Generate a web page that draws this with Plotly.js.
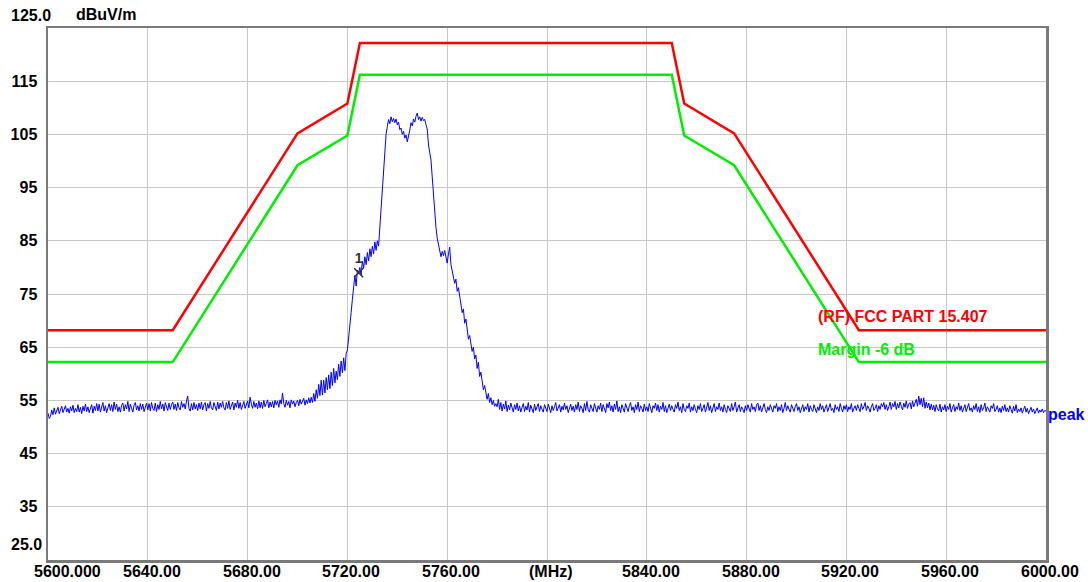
<!DOCTYPE html>
<html>
<head>
<meta charset="utf-8">
<script src="https://cdn.plot.ly/plotly-3.0.1.min.js"></script>
<style>
html,body{margin:0;padding:0;background:#fff;}
#chart{width:1088px;height:582px;}
</style>
</head>
<body>
<div id="chart"></div>
<script>
// Limit line: (RF) FCC PART 15.407
const limitFreq = [5600, 5650, 5700, 5720, 5725, 5850, 5855, 5875, 5925, 6000];
const limitLevel = [68.2, 68.2, 105.2, 110.8, 122.2, 122.2, 110.8, 105.2, 68.2, 68.2];
// Margin line (-6 dB)
const marginLevel = [62.2, 62.2, 99.2, 104.8, 116.2, 116.2, 104.8, 99.2, 62.2, 62.2];

// Peak trace, 5600 MHz .. 6000 MHz, 0.5 MHz per value
const peakStartMHz = 5600;
const peakStepMHz = 0.5;
const peakLevel = [
  52.6,51.6,52.0,53.2,52.3,53.6,52.4,52.9,53.7,52.5,53.1,53.9,52.7,53.3,54.0,52.8,53.5,52.6,53.8,53.0, // 5600
  54.1,52.7,53.5,52.9,54.2,52.8,53.7,52.5,53.9,53.0,54.3,52.9,53.8,52.7,53.6,54.2,52.6,53.9,53.1,54.4, // 5610
  53.0,54.3,52.8,53.9,54.6,53.0,54.0,52.7,53.6,54.4,53.1,54.2,52.9,54.7,53.3,54.3,52.9,53.8,52.8,54.1, // 5620
  54.5,53.0,54.2,53.4,54.8,52.9,54.3,53.5,52.8,54.1,54.6,53.2,54.0,53.0,54.4,53.3,54.3,52.9,53.7,54.5, // 5630
  53.2,54.4,53.0,54.6,53.5,53.1,54.5,52.9,54.2,53.3,54.8,53.4,54.3,53.0,54.6,53.8,53.1,54.5,53.3,54.2, // 5640
  54.7,53.3,54.3,53.1,54.6,53.6,53.2,54.8,53.7,54.4,53.4,54.9,55.8,53.5,53.0,54.4,53.2,54.6,53.4,54.2, // 5650
  53.1,54.5,53.4,54.7,53.2,54.2,54.6,53.0,54.4,53.5,54.8,53.6,53.2,54.6,53.9,53.1,54.7,53.4,54.5,53.7, // 5660
  54.8,53.6,53.2,54.6,53.5,54.9,53.3,54.3,54.7,53.2,54.5,53.7,55.0,53.5,54.6,53.3,54.3,54.8,53.5,54.4, // 5670
  54.9,53.6,55.6,54.3,53.5,54.8,53.7,54.5,53.4,54.9,53.6,54.7,53.5,55.0,53.8,54.4,55.1,53.6,54.7,53.8, // 5680
  54.8,53.6,55.0,54.2,54.9,53.7,55.1,54.3,56.4,54.4,53.7,55.0,54.1,54.8,53.6,55.1,54.3,54.9,53.8,54.6, // 5690
  55.0,54.0,55.2,54.3,54.8,55.4,54.1,55.1,54.4,55.5,54.5,55.6,54.6,56.3,54.8,57.0,55.4,58.0,55.9,58.8, // 5700
  56.0,58.8,56.4,59.3,57.0,59.8,57.2,60.3,57.8,61.0,58.3,60.5,58.9,61.8,59.5,62.4,60.2,63.0,60.6,63.8, // 5710
  64.5,66.5,69.0,71.5,74.0,76.5,78.5,76.5,79.5,79.0,80.0,78.5,81.2,79.8,82.0,80.5,82.8,81.2,83.5,82.0, // 5720
  84.0,82.5,84.8,83.2,85.0,84.0,87.5,91.0,95.0,99.0,102.5,105.0,106.5,107.8,107.0,108.3,107.4,108.0,107.2,107.9, // 5730
  106.8,107.3,105.9,106.2,105.0,105.6,104.3,104.9,103.6,104.5,105.8,107.2,106.6,107.9,107.3,108.4,109.0,107.8,108.3,107.5, // 5740
  108.2,107.6,107.8,106.8,106.0,103.0,101.5,100.2,97.0,93.5,90.0,87.5,85.5,84.2,83.0,82.0,83.0,82.2,83.2,81.8, // 5750
  80.8,82.5,83.8,80.5,79.2,78.5,77.0,77.8,75.5,76.2,74.5,73.0,71.5,72.2,69.5,70.3,68.0,66.5,67.2,65.5, // 5760
  64.2,65.0,62.8,63.5,61.0,62.2,59.5,60.3,58.2,57.0,57.8,56.0,55.2,56.3,54.6,55.5,54.2,55.0,53.9,54.4, // 5770
  53.8,55.2,53.3,54.6,53.0,54.3,53.4,54.9,52.9,54.1,53.2,54.5,53.6,52.8,54.2,53.3,54.5,53.0,54.0,52.8, // 5780
  53.7,54.4,52.9,53.9,53.2,54.6,52.8,54.1,53.4,52.7,54.3,53.1,53.8,54.4,52.9,54.0,53.3,52.8,54.2,53.5, // 5790
  52.9,54.3,53.3,52.7,54.0,53.1,53.8,54.6,53.0,53.5,54.2,52.8,53.9,53.2,54.5,53.3,54.0,52.7,53.6,54.3, // 5800
  53.1,53.9,52.8,54.2,53.3,54.7,52.9,54.0,53.5,52.7,54.4,53.1,54.8,53.3,52.8,54.2,53.5,52.9,54.4,53.7, // 5810
  52.8,54.0,53.3,54.5,52.9,54.2,53.5,52.7,54.4,53.6,54.7,53.1,54.0,52.8,54.3,53.3,54.9,52.9,53.8,52.7, // 5820
  54.2,53.3,52.8,54.4,53.5,52.9,54.0,54.6,53.1,53.8,52.7,54.2,53.3,54.7,52.9,54.0,53.5,52.8,54.3,53.1, // 5830
  53.8,52.9,54.4,53.3,52.7,54.0,53.5,54.5,53.1,54.2,52.8,53.9,53.3,54.6,52.9,54.0,52.7,53.5,54.3,53.1, // 5840
  54.0,53.3,52.8,54.2,53.5,54.7,53.1,53.8,52.7,54.4,53.3,52.9,54.0,53.5,54.5,52.8,53.8,53.1,54.2,53.3, // 5850
  52.7,54.0,53.3,54.4,52.9,53.5,54.2,52.8,53.8,54.6,53.1,54.0,52.7,53.5,54.4,52.9,53.8,53.3,54.5,53.1, // 5860
  53.8,52.8,54.2,53.3,52.7,54.0,53.5,52.9,54.4,53.1,53.8,54.7,52.8,53.5,54.2,52.9,53.8,53.3,52.7,54.0, // 5870
  53.1,54.2,53.5,52.8,54.4,53.3,53.8,52.9,54.2,54.5,53.1,54.0,52.8,53.5,54.4,53.3,52.7,53.8,53.1,54.2, // 5880
  53.3,52.8,54.0,53.5,54.4,52.9,53.8,53.1,54.2,52.7,53.5,54.6,53.1,54.0,53.3,52.8,54.2,53.5,52.9,53.8, // 5890
  54.4,53.1,53.8,52.7,53.5,54.2,52.9,53.8,53.3,54.4,52.8,54.0,53.3,52.9,54.2,53.5,52.7,53.8,53.1,54.4, // 5900
  53.3,54.0,52.8,53.5,54.2,52.9,53.8,54.4,53.1,53.5,52.7,54.2,53.3,53.8,52.9,54.4,53.5,52.8,54.0,53.3, // 5910
  54.2,52.9,53.8,53.3,54.4,52.8,53.5,54.0,53.1,54.2,53.5,52.9,54.4,53.3,53.8,54.6,53.1,54.0,53.5,52.8, // 5920
  53.8,54.4,53.1,53.5,54.2,52.9,54.0,53.3,54.4,53.8,54.6,53.3,54.2,53.1,53.8,54.7,53.3,54.4,53.8,54.8, // 5930
  53.3,54.4,53.6,54.7,53.9,53.2,54.5,53.7,54.9,53.5,54.3,54.6,53.4,54.9,53.8,54.4,55.2,53.9,55.8,54.2, // 5940
  55.4,53.8,55.5,53.5,54.7,53.6,54.5,53.2,54.3,53.2,54.1,52.9,54.2,53.4,53.0,54.3,52.8,53.8,53.2,54.2, // 5950
  52.9,53.9,53.3,54.4,52.8,53.6,54.2,52.9,53.8,53.3,54.5,53.1,54.0,52.8,53.6,54.2,52.9,53.8,54.4,53.1, // 5960
  53.6,52.8,54.0,53.3,54.4,52.9,53.8,52.7,54.2,53.1,53.6,54.5,52.9,53.8,53.3,52.8,54.0,53.5,54.4,52.9, // 5970
  53.3,54.0,52.8,53.6,52.7,53.9,53.1,54.2,52.9,53.6,52.8,54.0,53.3,52.6,53.9,53.0,54.2,52.7,53.4,52.9, // 5980
  53.6,52.6,53.3,53.9,52.8,53.5,52.5,53.2,53.7,52.8,53.4,52.5,53.1,53.6,52.6,53.2,52.8,53.4,52.7,53.1, // 5990
  53.0 // 6000
];
const peakFreq = peakLevel.map((_, i) => peakStartMHz + i * peakStepMHz);

// Marker 1
const markerFreq = [5724.5];
const markerLevel = [79.0];
const markerText = ['1'];

// Axis ticks
const xTickVals = [5600, 5640, 5680, 5720, 5760, 5800, 5840, 5880, 5920, 5960, 6000];
const xTickText = ['5600.000', '5640.00', '5680.00', '5720.00', '5760.00', '(MHz)', '5840.00', '5880.00', '5920.00', '5960.00', '6000.00'];
const yTickVals = [35, 45, 55, 65, 75, 85, 95, 105, 115];
const yTickText = ['35', '45', '55', '65', '75', '85', '95', '105', '115'];

const FONT = 'Arial, "Liberation Sans", sans-serif';
const FS = 16;
const tickFont = {family: FONT, size: FS, color: '#000', weight: 'bold'};

const traces = [
  {x: limitFreq, y: limitLevel, mode: 'lines', line: {color: '#ff0000', width: 2.5}, hoverinfo: 'skip', showlegend: false},
  {x: limitFreq, y: marginLevel, mode: 'lines', line: {color: '#00ee00', width: 2.5}, hoverinfo: 'skip', showlegend: false},
  {x: peakFreq, y: peakLevel, mode: 'lines', line: {color: '#0000ff', width: 1}, hoverinfo: 'skip', showlegend: false},
  {x: markerFreq, y: markerLevel, mode: 'markers+text', text: markerText, textposition: 'top center',
   textfont: {family: FONT, size: 14, color: '#333333', weight: 'bold'},
   marker: {symbol: 'x-thin', size: 9, line: {color: '#333333', width: 1.5}}, hoverinfo: 'skip', showlegend: false}
];

// x-axis labels placed at the axis tick values (first one starts at the axis edge)
const xLabelAnnotations = xTickVals.map((v, i) => ({
  xref: 'x', yref: 'paper', x: v, y: 0,
  xanchor: i === 0 ? 'left' : 'center', yanchor: 'middle',
  xshift: i === 0 ? -16 : 4, yshift: -11,
  text: xTickText[i], showarrow: false, font: tickFont
}));

const layout = {
  width: 1088, height: 582,
  margin: {l: 48, r: 42, t: 28, b: 22},
  paper_bgcolor: '#ffffff', plot_bgcolor: '#ffffff',
  font: {family: FONT, size: FS, color: '#000000', weight: 'bold'},
  xaxis: {
    range: [5600, 6000], tickvals: xTickVals, ticktext: xTickText, showticklabels: false,
    showgrid: true, gridcolor: '#c8c8c8', gridwidth: 1,
    showline: true, linecolor: '#7a7a7a', linewidth: 2.5, mirror: true,
    ticks: '', zeroline: false
  },
  yaxis: {
    range: [25, 125], tickvals: yTickVals, ticktext: yTickText,
    showgrid: true, gridcolor: '#c8c8c8', gridwidth: 1,
    showline: true, linecolor: '#7a7a7a', linewidth: 2.5, mirror: true,
    ticks: '', zeroline: false, ticklabelstandoff: 5,
    tickfont: tickFont
  },
  annotations: xLabelAnnotations.concat([
    {xref: 'paper', yref: 'paper', x: 0, y: 1, xanchor: 'right', yanchor: 'middle', xshift: 5, yshift: 13,
     text: '125.0', showarrow: false, font: tickFont},
    {xref: 'paper', yref: 'paper', x: 0, y: 0, xanchor: 'right', yanchor: 'middle', xshift: -4, yshift: 16,
     text: '25.0', showarrow: false, font: tickFont},
    {xref: 'paper', yref: 'paper', x: 0, y: 1, xanchor: 'left', yanchor: 'middle', xshift: 26, yshift: 14,
     text: 'dBuV/m', showarrow: false, font: tickFont},
    {xref: 'x', yref: 'y', x: 5908, y: 70.7, xanchor: 'left', yanchor: 'middle',
     text: '(RF) FCC PART 15.407', showarrow: false, font: {family: FONT, size: FS, color: '#ff0000', weight: 'bold'}},
    {xref: 'x', yref: 'y', x: 5908, y: 64.6, xanchor: 'left', yanchor: 'middle',
     text: 'Margin -6 dB', showarrow: false, font: {family: FONT, size: FS, color: '#00ee00', weight: 'bold'}},
    {xref: 'paper', yref: 'y', x: 1, y: 52.3, xanchor: 'left', yanchor: 'middle', xshift: 0,
     text: 'peak', showarrow: false, font: {family: FONT, size: FS, color: '#0000ff', weight: 'bold'}}
  ])
};

Plotly.newPlot('chart', traces, layout, {staticPlot: true, displayModeBar: false});
</script>
</body>
</html>
